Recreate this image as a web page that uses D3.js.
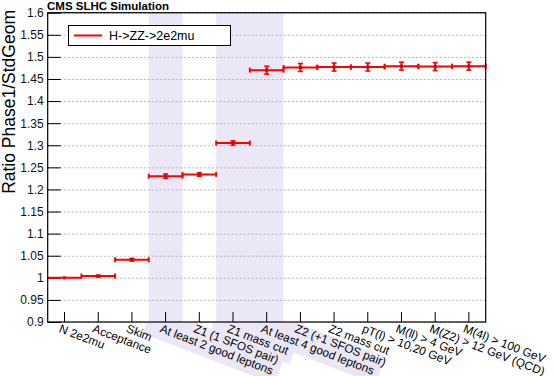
<!DOCTYPE html>
<html>
<head>
<meta charset="utf-8">
<script src="https://cdn.jsdelivr.net/npm/d3@7"></script>
<style>
  body { margin: 0; background: #fff; }
  svg { display: block; font-family: "Liberation Sans", Arial, Helvetica, sans-serif; }
</style>
</head>
<body>
<svg id="chart" width="554" height="376"></svg>
<script>
// cut-flow steps (x categories)
const categories = [
  "N 2e2mu", "Acceptance", "Skim", "At least 2 good leptons", "Z1 (1 SFOS pair)",
  "Z1 mass cut", "At least 4 good leptons", "Z2 (+1 SFOS pair)", "Z2 mass cut",
  "pT(l) > 10,20 GeV", "M(ll) > 4 GeV", "M(Z2) > 12 GeV (QCD)", "M(4l) > 100 GeV"
];
// ratio Phase1 / StdGeom and its error
const ratio    = [1.000, 1.004, 1.041, 1.230, 1.234, 1.305, 1.470, 1.476, 1.477, 1.477, 1.479, 1.478, 1.479];
const ratioErr = [0.000, 0.002, 0.003, 0.005, 0.004, 0.005, 0.009, 0.009, 0.009, 0.009, 0.009, 0.009, 0.009];
// highlighted steps
const shadedSteps = ["At least 2 good leptons", "Z1 mass cut", "At least 4 good leptons"];
const yTicks = [0.9, 0.95, 1, 1.05, 1.1, 1.15, 1.2, 1.25, 1.3, 1.35, 1.4, 1.45, 1.5, 1.55, 1.6];
const seriesName = "H->ZZ->2e2mu";

const svg = d3.select("#chart");
const plotLeft = 47.7, plotRight = 485.7, plotTop = 12.7, plotBottom = 322;
const red = "#ff0000";
const shade = "#ece7f6";
const labelAngle = 21;

const x = d3.scaleBand().domain(categories).range([plotLeft, plotRight]).padding(0);
const y = d3.scaleLinear().domain([0.9, 1.6]).range([plotBottom, plotTop]);
const bw = x.bandwidth();

// shaded bands in plot
svg.append("g")
  .selectAll("rect")
  .data(shadedSteps)
  .enter()
  .append("rect")
  .attr("x", d => x(d))
  .attr("y", plotTop)
  .attr("width", bw)
  .attr("height", plotBottom - plotTop)
  .attr("fill", shade);

// dotted grid
const grid = svg.append("g")
  .attr("transform", `translate(${plotLeft},0)`)
  .call(d3.axisLeft(y).tickValues(yTicks).tickSize(-(plotRight - plotLeft)).tickFormat(""));
grid.select(".domain").remove();
grid.selectAll("line")
  .attr("stroke", "#b4b4b4")
  .attr("stroke-dasharray", "2,2");

// y axis with inward ticks
const yAxis = svg.append("g")
  .attr("transform", `translate(${plotLeft},0)`)
  .call(d3.axisLeft(y).tickValues(yTicks).tickSize(-13).tickPadding(4)
    .tickFormat(d => d3.format("")(+d.toFixed(2))));
yAxis.select(".domain").remove();
yAxis.selectAll("line").attr("stroke", "#000");
yAxis.selectAll("text")
  .attr("font-size", "12px")
  .attr("fill", "#111")
  .attr("font-family", "'Liberation Sans', Arial, sans-serif");

// x axis ticks pointing up
const xAxis = svg.append("g")
  .attr("transform", `translate(0,${plotBottom})`)
  .call(d3.axisBottom(x).tickSize(-10).tickFormat(""));
xAxis.select(".domain").remove();
xAxis.selectAll("line").attr("stroke", "#000");

// rotated x labels, with shading behind highlighted steps
svg.append("clipPath").attr("id", "belowAxis")
  .append("rect").attr("x", 0).attr("y", plotBottom).attr("width", 554).attr("height", 376 - plotBottom);

const labelPos = d => `translate(${x(d) + bw / 2 - 3},${plotBottom + 1}) rotate(${labelAngle})`;
const labelShade = svg.append("g").attr("clip-path", "url(#belowAxis)");
const labels = svg.append("g")
  .selectAll("text")
  .data(categories)
  .enter()
  .append("text")
  .attr("transform", labelPos)
  .attr("dy", "0.8em")
  .attr("font-size", "11.8px")
  .attr("fill", "#000")
  .text(d => d);

labels.each(function(d) {
  if (!shadedSteps.includes(d)) return;
  const len = this.getComputedTextLength();
  labelShade.append("rect")
    .attr("transform", labelPos(d))
    .attr("x", -15)
    .attr("y", -12)
    .attr("width", len + 21)
    .attr("height", 29)
    .attr("fill", shade);
});

// series
const pts = categories.map((c, i) => ({ c, v: ratio[i], e: ratioErr[i] }));
const series = svg.append("g");

series.selectAll(".hline")
  .data(pts)
  .enter()
  .append("line")
  .attr("x1", d => x(d.c))
  .attr("x2", d => x(d.c) + bw)
  .attr("y1", d => y(d.v))
  .attr("y2", d => y(d.v))
  .attr("stroke", red)
  .attr("stroke-width", 2);

// end caps of horizontal bars
const withErr = pts.filter(d => d.e > 0);
[0, 1].forEach(side => {
  series.selectAll(".cap" + side)
    .data(withErr)
    .enter()
    .append("line")
    .attr("x1", d => x(d.c) + side * bw)
    .attr("x2", d => x(d.c) + side * bw)
    .attr("y1", d => y(d.v) - 2.5)
    .attr("y2", d => y(d.v) + 2.5)
    .attr("stroke", red)
    .attr("stroke-width", 2);
});

// vertical errors
series.selectAll(".verr")
  .data(withErr)
  .enter()
  .append("line")
  .attr("x1", d => x(d.c) + bw / 2)
  .attr("x2", d => x(d.c) + bw / 2)
  .attr("y1", d => y(d.v + d.e))
  .attr("y2", d => y(d.v - d.e))
  .attr("stroke", red)
  .attr("stroke-width", 2);

["+", "-"].forEach(s => {
  series.selectAll(".vcap" + (s === "+" ? "u" : "d"))
    .data(withErr)
    .enter()
    .append("line")
    .attr("x1", d => x(d.c) + bw / 2 - 2.5)
    .attr("x2", d => x(d.c) + bw / 2 + 2.5)
    .attr("y1", d => y(s === "+" ? d.v + d.e : d.v - d.e))
    .attr("y2", d => y(s === "+" ? d.v + d.e : d.v - d.e))
    .attr("stroke", red)
    .attr("stroke-width", 1.6);
});

series.selectAll(".marker")
  .data(pts)
  .enter()
  .append("rect")
  .attr("x", d => x(d.c) + bw / 2 - 1.5)
  .attr("y", d => y(d.v) - 1.5)
  .attr("width", 3)
  .attr("height", 3)
  .attr("fill", d => d.e > 0 ? "#cc0000" : red);

// frame
svg.append("rect")
  .attr("x", plotLeft)
  .attr("y", plotTop)
  .attr("width", plotRight - plotLeft)
  .attr("height", plotBottom - plotTop)
  .attr("fill", "none")
  .attr("stroke", "#000")
  .attr("stroke-width", 1.2);

// legend
const legend = svg.append("g");
legend.append("rect")
  .attr("x", 68.5).attr("y", 25.5).attr("width", 162).attr("height", 20)
  .attr("fill", "#fff").attr("stroke", "#000").attr("stroke-width", 1);
legend.append("line")
  .attr("x1", 74).attr("x2", 102).attr("y1", 35.5).attr("y2", 35.5)
  .attr("stroke", red).attr("stroke-width", 2);
legend.append("text")
  .attr("x", 109).attr("y", 40)
  .attr("font-size", "12.5px")
  .attr("fill", "#000")
  .text(seriesName);

// titles
svg.append("text")
  .attr("x", 47).attr("y", 10)
  .attr("font-size", "11.5px")
  .attr("font-weight", "bold")
  .attr("fill", "#000")
  .text("CMS SLHC Simulation");

svg.append("text")
  .attr("transform", "translate(15,10) rotate(-90)")
  .attr("text-anchor", "end")
  .attr("font-size", "17.5px")
  .attr("fill", "#000")
  .text("Ratio Phase1/StdGeom");
</script>
</body>
</html>
